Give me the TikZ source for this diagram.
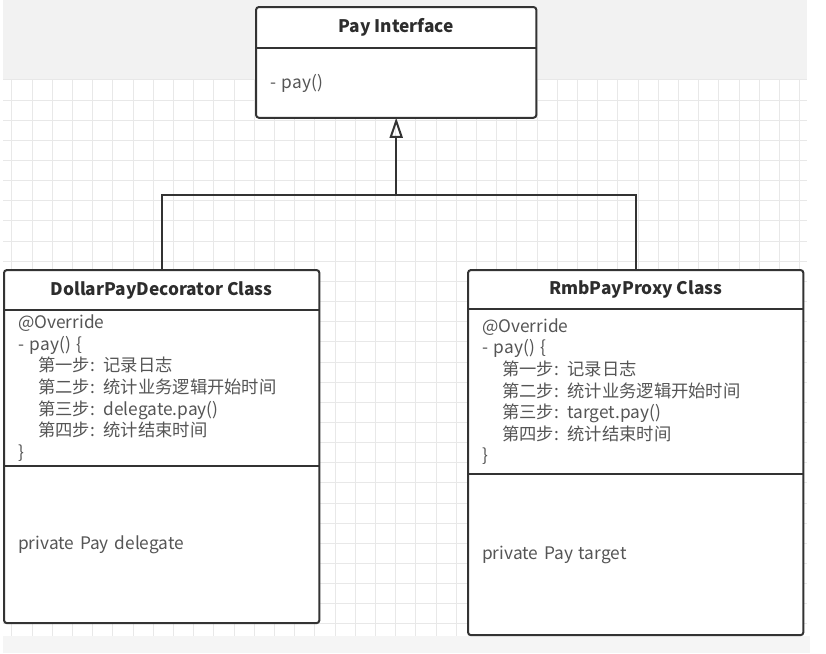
\documentclass[tikz,border=0pt]{standalone}
\usepackage{fontspec}
\setmainfont{Noto Sans CJK SC}
\usetikzlibrary{positioning,arrows.meta}

\begin{document}
\begin{tikzpicture}[x=1pt,y=-1pt,
    frame/.style={draw=boxline, line width=2pt, rounded corners=3pt},
    divider/.style={draw=boxline, line width=2pt},
    titlepart/.style={fill=white, inner sep=0pt, font=\bfseries\fontsize{17.3}{20}\selectfont, text=titletext},
    bodypart/.style={fill=white, inner xsep=14pt, inner ysep=0pt, align=left, font=\fontsize{17.3}{21.6}\selectfont, text=bodytext},
    link/.style={draw=boxline, line width=2pt},
    gridline/.style={draw=gridgray, line width=0.8pt}]

    % Define colors
    \definecolor{boxline}{RGB}{51,51,51}
    \definecolor{titletext}{RGB}{45,45,45}
    \definecolor{bodytext}{RGB}{85,85,85}
    \definecolor{bandgray}{RGB}{242,242,242}
    \definecolor{bottomgray}{RGB}{245,245,245}
    \definecolor{gridgray}{RGB}{232,232,232}

    % Canvas
    \fill[white] (0,0) rectangle (826,653);
    \fill[bandgray] (3,0) rectangle (807,79);
    \fill[bottomgray] (3,636) rectangle (810,653);
    \foreach \gx in {0,...,39}
        \draw[gridline] ({11.7+20.2*\gx},79) -- ({11.7+20.2*\gx},636);
    \foreach \gy in {0,...,27}
        \draw[gridline] (3,{79.8+20.15*\gy}) -- (807,{79.8+20.15*\gy});

    %-------------
    % Interface

    \node[titlepart, minimum width=280pt, minimum height=41pt, anchor=north west] (payTitle) at (256,7) {Pay Interface};
    \node[bodypart, text width=252pt, minimum height=69pt, below=0pt of payTitle] (payOps) {- pay()};
    \draw[frame] (payTitle.north west) rectangle (payOps.south east);
    \draw[divider] (payTitle.south west) -- (payTitle.south east);

    %-------------
    % Decorator

    \node[titlepart, minimum width=315pt, minimum height=40pt, anchor=north west] (dollarTitle) at (4,270) {DollarPayDecorator Class};
    \node[bodypart, text width=287pt, minimum height=155pt, below=0pt of dollarTitle] (dollarOps) {@Override\\
        - pay() \{\\
        \hspace*{20pt}第一步: 记录日志\\
        \hspace*{20pt}第二步: 统计业务逻辑开始时间\\
        \hspace*{20pt}第三步: delegate.pay()\\
        \hspace*{20pt}第四步: 统计结束时间\\
        \}};
    \node[bodypart, text width=287pt, minimum height=157pt, below=0pt of dollarOps] (dollarAttr) {private Pay delegate};
    \draw[frame] (dollarTitle.north west) rectangle (dollarAttr.south east);
    \draw[divider] (dollarTitle.south west) -- (dollarTitle.south east);
    \draw[divider] (dollarOps.south west) -- (dollarOps.south east);

    %-------------
    % Proxy

    \node[titlepart, minimum width=335pt, minimum height=39pt, anchor=north west] (rmbTitle) at (468,270) {RmbPayProxy Class};
    \node[bodypart, text width=307pt, minimum height=164pt, below=0pt of rmbTitle] (rmbOps) {@Override\\
        - pay() \{\\
        \hspace*{20pt}第一步: 记录日志\\
        \hspace*{20pt}第二步: 统计业务逻辑开始时间\\
        \hspace*{20pt}第三步: target.pay()\\
        \hspace*{20pt}第四步: 统计结束时间\\
        \}};
    \node[bodypart, text width=307pt, minimum height=161pt, below=0pt of rmbOps] (rmbAttr) {private Pay target};
    \draw[frame] (rmbTitle.north west) rectangle (rmbAttr.south east);
    \draw[divider] (rmbTitle.south west) -- (rmbTitle.south east);
    \draw[divider] (rmbOps.south west) -- (rmbOps.south east);

    %-------------
    % Realization

    \path (payOps.south) ++(0,77) coordinate (fork);
    \draw[link] (dollarTitle.north) |- (fork) -| (rmbTitle.north);
    \draw[link, -{Triangle[open, length=20pt, width=13pt]}] (fork) -- (payOps.south);

\end{tikzpicture}
\end{document}
